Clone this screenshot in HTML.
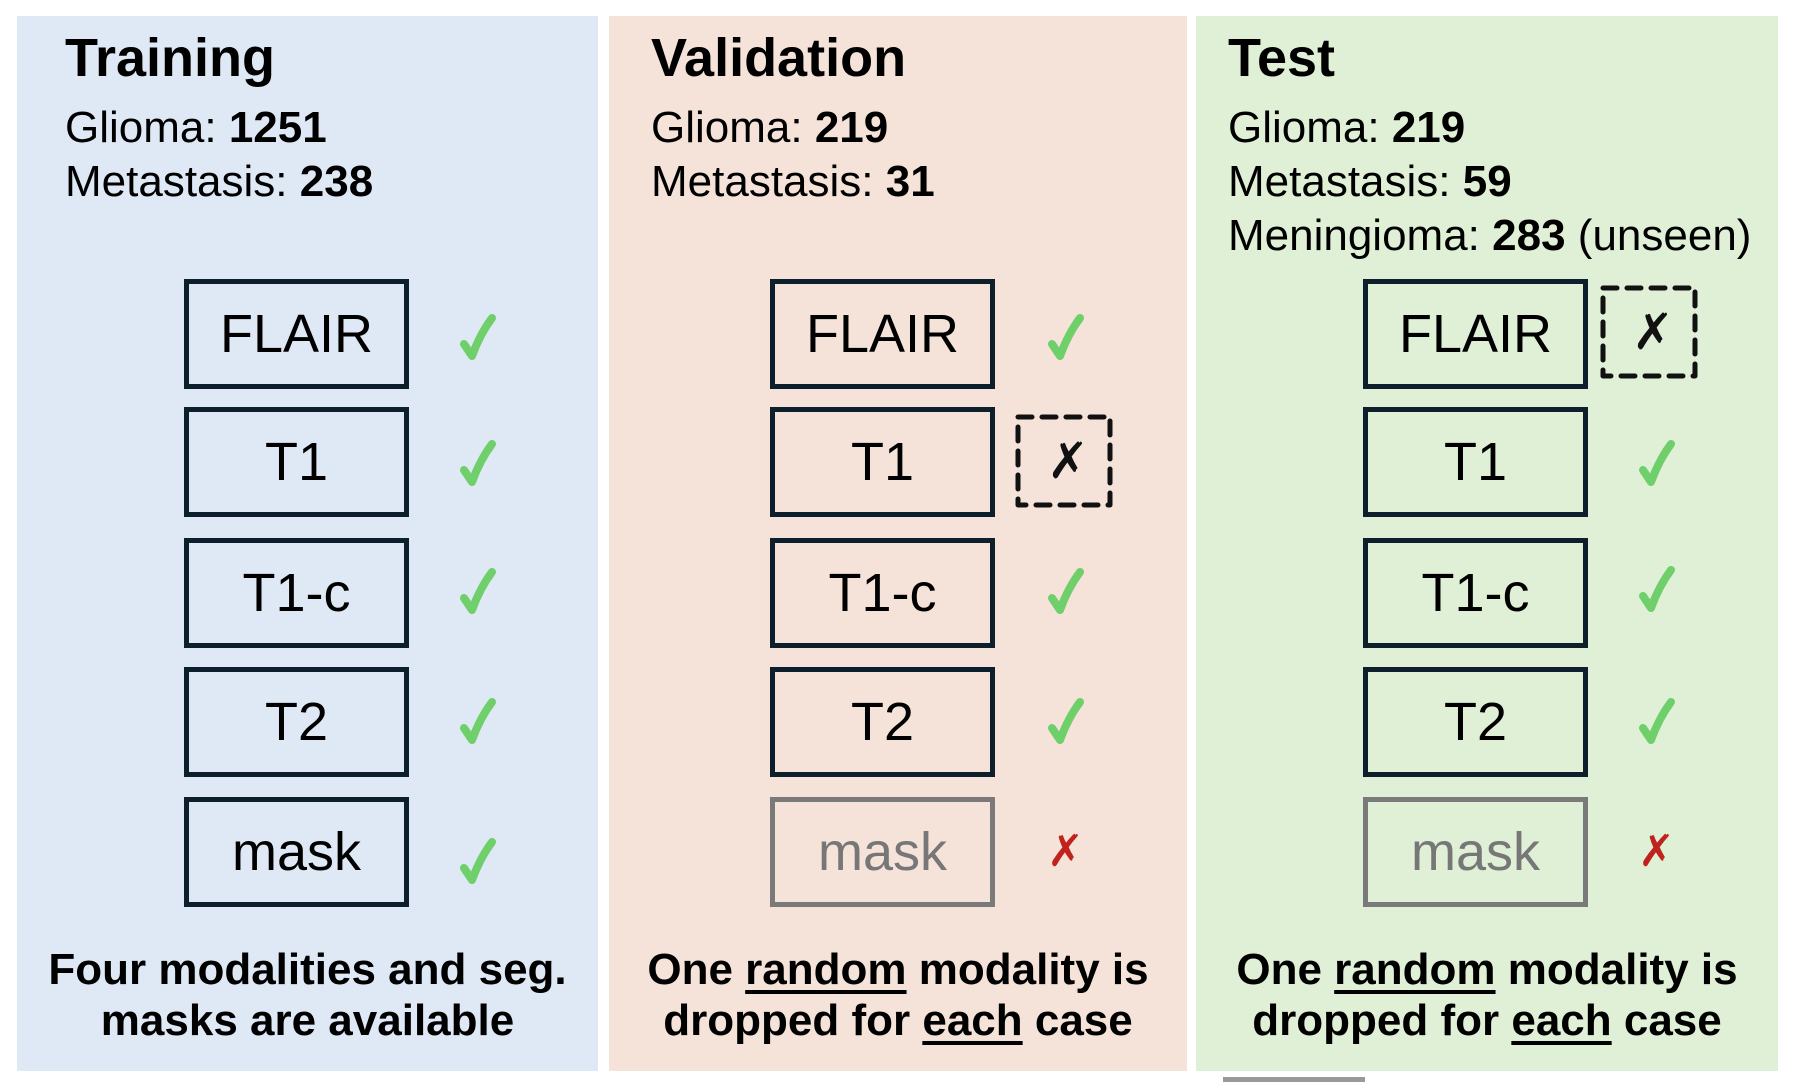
<!DOCTYPE html>
<html><head><meta charset="utf-8"><style>
body{margin:0;width:1794px;height:1082px;background:#fff;position:relative;overflow:hidden;font-family:"Liberation Sans",Arial,sans-serif;color:#000}
.p{position:absolute;top:16px;height:1055px}
.t{position:absolute;font-weight:bold;font-size:54px;line-height:1;white-space:nowrap}
.s{position:absolute;font-size:44px;line-height:1;white-space:nowrap}
.b{position:absolute;box-sizing:border-box;width:225px;height:110px;border:5px solid #0d1f2d;font-size:54px;display:flex;align-items:center;justify-content:center}
.g{border-color:#7a7a7a;color:#777}
.x{position:absolute;font-family:"DejaVu Sans",sans-serif;font-size:44px;line-height:1;color:#c0231d;font-weight:bold}
.dx{position:absolute;font-family:"DejaVu Sans",sans-serif;font-size:50px;line-height:1;font-weight:bold;color:#111}
.bt{position:absolute;font-weight:bold;font-size:44px;line-height:51px;text-align:center;white-space:nowrap}
u{text-decoration-thickness:4px;text-underline-offset:6px}
</style></head><body>
<div class="p" style="left:17px;width:581px;background:#dfe8f5"></div>
<div class="p" style="left:609px;width:578px;background:#f5e3d9"></div>
<div class="p" style="left:1196px;width:582px;background:#dff0d6"></div>
<div style="position:absolute;left:1223px;top:1077px;width:142px;height:5px;background:#999"></div>

<div class="t" style="left:65px;top:31px">Training</div>
<div class="s" style="left:65px;top:106px">Glioma: <b>1251</b></div>
<div class="s" style="left:65px;top:160px">Metastasis: <b>238</b></div>

<div class="t" style="left:651px;top:31px">Validation</div>
<div class="s" style="left:651px;top:106px">Glioma: <b>219</b></div>
<div class="s" style="left:651px;top:160px">Metastasis: <b>31</b></div>

<div class="t" style="left:1228px;top:31px">Test</div>
<div class="s" style="left:1228px;top:106px">Glioma: <b>219</b></div>
<div class="s" style="left:1228px;top:160px">Metastasis: <b>59</b></div>
<div class="s" style="left:1228px;top:214px">Meningioma: <b>283</b> (unseen)</div>

<div class="b" style="left:184px;top:279px">FLAIR</div>
<div class="b" style="left:184px;top:407px">T1</div>
<div class="b" style="left:184px;top:538px">T1-c</div>
<div class="b" style="left:184px;top:667px">T2</div>
<div class="b" style="left:184px;top:797px">mask</div>

<div class="b" style="left:770px;top:279px">FLAIR</div>
<div class="b" style="left:770px;top:407px">T1</div>
<div class="b" style="left:770px;top:538px">T1-c</div>
<div class="b" style="left:770px;top:667px">T2</div>
<div class="b g" style="left:770px;top:797px">mask</div>

<div class="b" style="left:1363px;top:279px">FLAIR</div>
<div class="b" style="left:1363px;top:407px">T1</div>
<div class="b" style="left:1363px;top:538px">T1-c</div>
<div class="b" style="left:1363px;top:667px">T2</div>
<div class="b g" style="left:1363px;top:797px">mask</div>

<svg width="1794" height="1082" style="position:absolute;left:0;top:0" fill="none" stroke="#6fcf6a" stroke-width="8" stroke-linecap="round" stroke-linejoin="round">
<defs><path id="ck" d="M-14,6 L-6,18 Q2,-4 14,-20"/></defs>
<use href="#ck" x="478" y="338"/><use href="#ck" x="478" y="464"/><use href="#ck" x="478" y="592"/><use href="#ck" x="478" y="722"/><use href="#ck" x="478" y="862"/>
<use href="#ck" x="1066" y="338"/><use href="#ck" x="1066" y="592"/><use href="#ck" x="1066" y="722"/>
<use href="#ck" x="1657" y="464"/><use href="#ck" x="1657" y="590"/><use href="#ck" x="1657" y="722"/>
<g stroke="#111" stroke-width="5" stroke-dasharray="14 10">
<rect x="1018" y="417" width="92" height="88"/>
<rect x="1603" y="288" width="92" height="88"/>
</g>
</svg>

<div class="x" style="left:1047px;top:830px">✗</div>
<div class="x" style="left:1638px;top:830px">✗</div>
<div class="dx" style="left:1047px;top:436px">✗</div>
<div class="dx" style="left:1632px;top:307px">✗</div>

<div class="bt" style="left:17px;width:581px;top:944px">Four modalities and seg.<br>masks are available</div>
<div class="bt" style="left:609px;width:578px;top:944px">One <u>random</u> modality is<br>dropped for <u>each</u> case</div>
<div class="bt" style="left:1196px;width:582px;top:944px">One <u>random</u> modality is<br>dropped for <u>each</u> case</div>
</body></html>
